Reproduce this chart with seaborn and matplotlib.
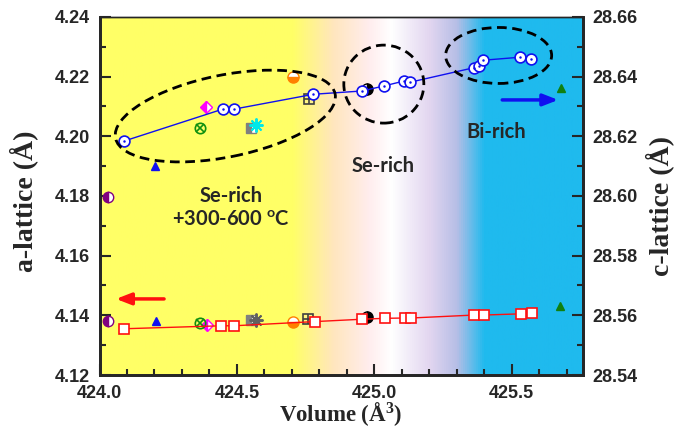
import numpy as np
import pandas as pd
import matplotlib
matplotlib.use("Agg")
import matplotlib.pyplot as plt
import matplotlib.transforms as mtransforms
from matplotlib.patches import Ellipse
from matplotlib.colors import LinearSegmentedColormap
from matplotlib.ticker import MultipleLocator
import seaborn as sns

# ─── Data ───────────────────────────────────────────────────────────────────
vol_a = [424.089, 424.448, 424.489, 424.779, 424.956, 425.036, 425.107, 425.129,
         425.363, 425.381, 425.396, 425.529, 425.569]
a_lat = [4.1984, 4.2091, 4.2091, 4.2141, 4.2152, 4.2169, 4.2185, 4.2181,
         4.2230, 4.2237, 4.2255, 4.2265, 4.2260]

vol_c = [424.089, 424.444, 424.490, 424.783, 424.957, 425.038, 425.111, 425.133,
         425.365, 425.398, 425.535, 425.574]
c_lat = [28.5555, 28.5565, 28.5565, 28.5579, 28.5587, 28.5590, 28.5591, 28.5591,
         28.5601, 28.5601, 28.5605, 28.5608]

# literature points: volume, a-lattice, c-lattice
ref_vol_a = [424.032, 424.203, 424.388, 424.365, 424.550, 424.569, 424.703, 424.763, 424.973, 425.680]
ref_a     = [4.1798, 4.1902, 4.2097, 4.2027, 4.2029, 4.2037, 4.2198, 4.2124, 4.2158, 4.2162]
ref_vol_c = [424.032, 424.205, 424.390, 424.365, 424.553, 424.569, 424.703, 424.760, 424.973, 425.677]
ref_c     = [28.5581, 28.5581, 28.5569, 28.5573, 28.5584, 28.5584, 28.5579, 28.5587, 28.5595, 28.5631]

XLIM = (424.0, 425.76)
ALIM = (4.12, 4.24)
CLIM = (28.54, 28.66)

# ─── Style ──────────────────────────────────────────────────────────────────
sns.set_style("ticks")
plt.rcParams.update({
    "font.family": ["Liberation Sans", "DejaVu Sans"],
    "xtick.direction": "in",
    "ytick.direction": "in",
})
TICK_FONT = dict(fontsize=13, fontweight="bold")
SERIF = ["Liberation Serif", "DejaVu Serif"]
NOTE_FONT = dict(fontsize=14.5, fontweight="bold", family="Lato")

fig = plt.figure(figsize=(6.76, 4.30), dpi=100)
ax = fig.add_axes([0.1472, 0.1279, 0.7152, 0.8326])
ax2 = ax.twinx()

# background gradient
stops = [(0.0, "#FFFF66"), ((424.70 - XLIM[0]) / 1.76, "#FFFF66"),
         ((424.85 - XLIM[0]) / 1.76, "#FFE6BE"), ((424.98 - XLIM[0]) / 1.76, "#FFEDEE"),
         ((425.06 - XLIM[0]) / 1.76, "#FFFFFF"), ((425.20 - XLIM[0]) / 1.76, "#E2D6F0"),
         ((425.30 - XLIM[0]) / 1.76, "#B6BEE6"), ((425.40 - XLIM[0]) / 1.76, "#1FBAEE"),
         (1.0, "#1FBAEE")]
cmap = LinearSegmentedColormap.from_list("bg", stops)
ax.imshow(np.linspace(0, 1, 512)[None, :], aspect="auto", cmap=cmap,
          extent=[XLIM[0], XLIM[1], ALIM[0], ALIM[1]], zorder=0)

df_a = pd.DataFrame({"Volume": vol_a, "a": a_lat})
df_c = pd.DataFrame({"Volume": vol_c, "c": c_lat})

# literature markers (upper: a-lattice on left axis, lower: c-lattice on right axis)
def ref_markers(axis, xs, ys):
    axis.plot(xs[0], ys[0], "o", ms=7.5, mfc="#800080", mec="#800080", fillstyle="left",
              markerfacecoloralt="white", zorder=4)
    axis.plot(xs[1], ys[1], "^", ms=6, mfc="#1010F0", mec="#1010F0", zorder=4)
    axis.plot(xs[2], ys[2], "D", ms=6, mfc="#FF00FF", mec="#FF00FF", fillstyle="left",
              markerfacecoloralt="white", zorder=4)
    axis.plot(xs[3], ys[3], "o", ms=7.5, mfc="none", mec="#109010", mew=1.2, zorder=4)
    axis.plot(xs[3], ys[3], "x", ms=5.5, mec="#109010", mew=1.2, zorder=4)
    axis.plot(xs[4], ys[4], "s", ms=7, mfc="#808080", mec="#808080", fillstyle="left",
              markerfacecoloralt="white", zorder=4)
    axis.plot(xs[6], ys[6], "o", ms=8, mfc="#FF8000", mec="#FF8000", fillstyle="bottom",
              markerfacecoloralt="white", zorder=4)
    axis.plot(xs[7], ys[7], "s", ms=7, mfc="none", mec="#404040", mew=1.2, zorder=4)
    axis.plot(xs[7], ys[7], "+", ms=7, mec="#404040", mew=1.2, zorder=4)
    axis.plot(xs[8], ys[8], "o", ms=8, mfc="black", mec="black", fillstyle="right",
              markerfacecoloralt="white", zorder=3)
    axis.plot(xs[9], ys[9], "^", ms=5.5, mfc="#108010", mec="#108010", zorder=4)

ref_markers(ax, ref_vol_a, ref_a)
ax.plot(ref_vol_a[5], ref_a[5], marker=(8, 2, 0), ms=10, mec="#00E8E8", mew=1.4, ls="none", zorder=4)
ref_markers(ax2, ref_vol_c, ref_c)
ax2.plot(ref_vol_c[5], ref_c[5], marker=(8, 2, 0), ms=10, mec="#606060", mew=1.4, ls="none", zorder=4)

# this work
sns.lineplot(data=df_a, x="Volume", y="a", ax=ax, color="#1010F0", lw=1,
             marker="o", markersize=7.8, markerfacecolor="white", markeredgecolor="#1010F0",
             markeredgewidth=1.2, zorder=5)
ax.scatter(vol_a, a_lat, s=0.6, color="#1010F0", zorder=6)
sns.lineplot(data=df_c, x="Volume", y="c", ax=ax2, color="#FF1010", lw=1,
             marker="s", markersize=7.5, markerfacecolor="white", markeredgecolor="#FF1010",
             markeredgewidth=1.2, zorder=5)

# ellipses (size in pixels, centred on data points)
def dashed_ellipse(axis, cx, cy, w_px, h_px, angle):
    tr = fig.dpi_scale_trans + mtransforms.ScaledTranslation(cx, cy, axis.transData)
    axis.add_patch(Ellipse((0, 0), w_px / 100, h_px / 100, angle=angle, transform=tr,
                           fill=False, ec="black", lw=2, ls=(0, (3.5, 2)), zorder=7))

dashed_ellipse(ax, 424.458, 4.2068, 224, 82, 11.4)
dashed_ellipse(ax, 425.035, 4.2175, 80, 78, 0)
dashed_ellipse(ax, 425.453, 4.2271, 106, 56, 0)

# arrows
ax.annotate("", xy=(424.06, 4.1455), xytext=(424.235, 4.1455),
            arrowprops=dict(arrowstyle="-|>,head_length=0.9,head_width=0.35",
                            color="#FF1010", lw=2.5, shrinkA=0, shrinkB=0), zorder=7)
ax.annotate("", xy=(425.67, 4.2122), xytext=(425.466, 4.2122),
            arrowprops=dict(arrowstyle="-|>,head_length=0.9,head_width=0.35",
                            color="#1010F0", lw=2.5, shrinkA=0, shrinkB=0), zorder=7)

# region notes
ax.text(424.478, 4.1800, "Se-rich", ha="center", va="center", **NOTE_FONT)
ax.text(424.478, 4.1718, "+300-600 $\\mathregular{^o}$C", ha="center", va="center", **NOTE_FONT)
ax.text(425.032, 4.1900, "Se-rich", ha="center", va="center", **NOTE_FONT)
ax.text(425.443, 4.2015, "Bi-rich", ha="center", va="center", **NOTE_FONT)

# axes
ax.xaxis.set_major_locator(MultipleLocator(0.5))
ax.xaxis.set_minor_locator(MultipleLocator(0.1))
ax.yaxis.set_major_locator(MultipleLocator(0.02))
ax.yaxis.set_minor_locator(MultipleLocator(0.01))
ax2.yaxis.set_major_locator(MultipleLocator(0.02))
ax2.yaxis.set_minor_locator(MultipleLocator(0.01))
ax.set_xlim(*XLIM)
ax.set_ylim(*ALIM)
ax2.set_ylim(*CLIM)
ax.xaxis.set_major_formatter(lambda v, p: f"{v:.1f}")
ax.yaxis.set_major_formatter(lambda v, p: f"{v:.2f}")
ax2.yaxis.set_major_formatter(lambda v, p: f"{v:.2f}")
for lab in ax.get_xticklabels() + ax.get_yticklabels() + ax2.get_yticklabels():
    lab.set_fontsize(TICK_FONT["fontsize"])
    lab.set_fontweight(TICK_FONT["fontweight"])

for a_ in (ax, ax2):
    a_.tick_params(which="major", length=8, width=1.5, pad=7, labelsize=13)
    a_.tick_params(which="minor", length=4, width=1.5)
    for side in ("left", "right", "bottom"):
        a_.spines[side].set_linewidth(2)
    a_.spines["top"].set_linewidth(1)
ax.tick_params(axis="y", right=False)
ax.set_xlabel("")
ax.set_ylabel("")
ax2.set_ylabel("")

fig.text(341 / 676, 1 - 414 / 430, "Volume (Å$\\mathregular{^3}$)", ha="center", va="center",
         fontsize=16.5, fontweight="bold", family=SERIF)
fig.text(24 / 676, 1 - 201 / 430, "a-lattice (Å)", ha="center", va="center", rotation=90,
         fontsize=20, fontweight="bold", family=SERIF)
fig.text(660 / 676, 1 - 206 / 430, "c-lattice (Å)", ha="center", va="center", rotation=90,
         fontsize=20, fontweight="bold", family=SERIF)

fig.savefig("out.png", dpi=100)
plt.close(fig)
